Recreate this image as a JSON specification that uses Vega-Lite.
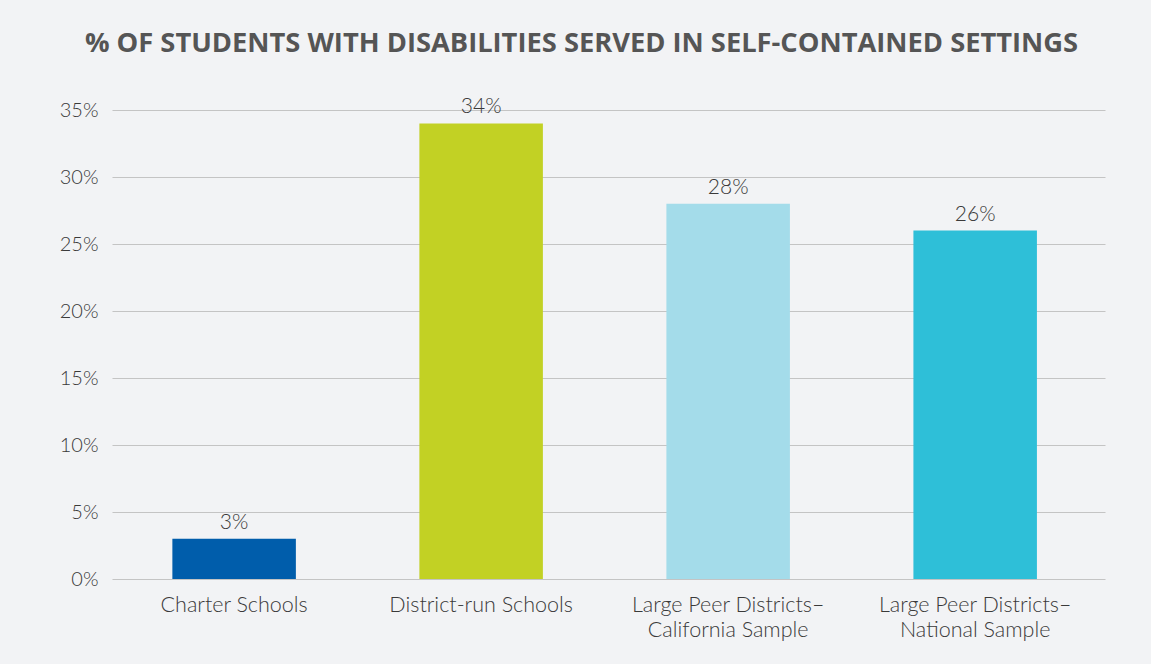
{
  "$schema": "https://vega.github.io/schema/vega-lite/v6.json",
  "autosize": {"type": "none"},
  "width": 993,
  "height": 469,
  "padding": {"left": 112, "top": 110, "right": 46, "bottom": 85},
  "background": "#f2f3f5",
  "title": {
    "text": "% OF STUDENTS WITH DISABILITIES SERVED IN SELF-CONTAINED SETTINGS",
    "font": "Open Sans",
    "fontSize": 27.3,
    "fontWeight": "bold",
    "color": "#555555",
    "anchor": "middle",
    "dx": -27,
    "offset": 39
  },
  "config": {
    "view": {"stroke": null},
    "axis": {"labelFont": "Lato", "labelFontSize": 20, "labelColor": "#3a3a3a", "labelFontWeight": 300}
  },
  "data": {
    "values": [
      {"category": "Charter Schools", "value": 0.03},
      {"category": "District-run Schools", "value": 0.34},
      {"category": "Large Peer Districts–California Sample", "value": 0.28},
      {"category": "Large Peer Districts–National Sample", "value": 0.26}
    ]
  },
  "encoding": {
    "x": {
      "field": "category",
      "type": "nominal",
      "sort": null,
      "scale": {"paddingInner": 0.5, "paddingOuter": 0.26, "align": 0.47},
      "axis": {
        "title": null,
        "labelAngle": 0,
        "ticks": false,
        "domain": false,
        "labelPadding": 15,
        "labelFontSize": 21.5,
        "labelLineHeight": 25,
        "labelLimit": 400,
        "labelExpr": "indexof(datum.value,'–')>0 ? [slice(datum.value,0,indexof(datum.value,'–')+1), slice(datum.value,indexof(datum.value,'–')+1)] : datum.value"
      }
    },
    "y": {
      "field": "value",
      "type": "quantitative",
      "scale": {"domain": [0, 0.35], "nice": false},
      "axis": {
        "title": null,
        "format": ".0%",
        "values": [0, 0.05, 0.1, 0.15, 0.2, 0.25, 0.3, 0.35],
        "ticks": false,
        "domain": false,
        "labelPadding": 14,
        "gridColor": "#c4c4c4",
        "gridWidth": 1.2
      }
    }
  },
  "layer": [
    {
      "mark": {"type": "bar"},
      "encoding": {
        "color": {
          "field": "category",
          "type": "nominal",
          "legend": null,
          "scale": {
            "domain": ["Charter Schools", "District-run Schools", "Large Peer Districts–California Sample", "Large Peer Districts–National Sample"],
            "range": ["#005dab", "#c2d124", "#a4dcea", "#2ebfd8"]
          }
        }
      }
    },
    {
      "mark": {"type": "text", "baseline": "alphabetic", "dy": -10, "font": "Lato", "fontSize": 21, "fontWeight": 300, "color": "#3a3a3a"},
      "encoding": {
        "text": {"field": "value", "type": "quantitative", "format": ".0%"}
      }
    }
  ]
}
